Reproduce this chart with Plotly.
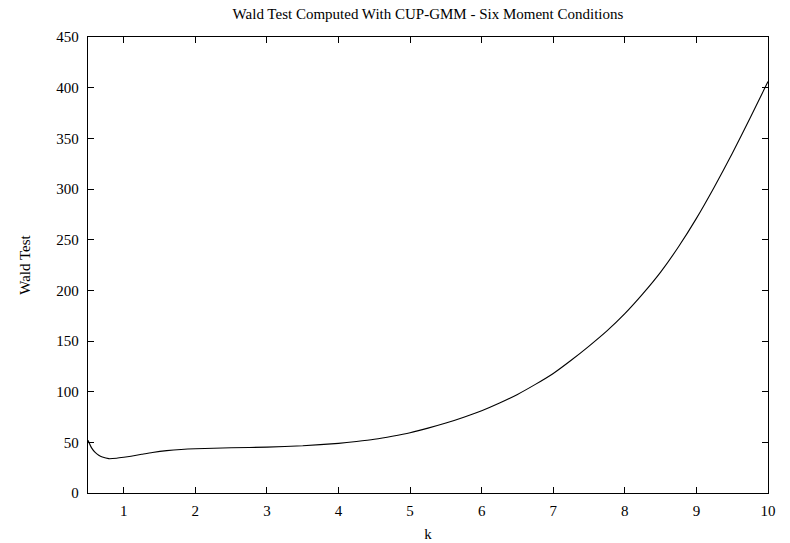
import plotly.graph_objects as go

# Values
k_values = [0.5, 0.55, 0.6, 0.65, 0.7, 0.79, 0.9, 1.0, 1.1, 1.25, 1.4, 1.6, 1.8, 2.0, 2.5, 3.0,
            3.5, 4.0, 4.25, 4.5, 4.75, 5.0, 5.25, 5.5, 5.75, 6.0, 6.25, 6.5, 6.75,
            7.0, 7.25, 7.5, 7.75, 8.0, 8.25, 8.5, 8.75, 9.0, 9.25, 9.5, 9.75, 10.0]
wald_values = [52, 44.5, 40, 37.2, 35.5, 33.9, 34.3, 35.2, 36.3, 38.2, 40, 41.8, 43, 43.7, 44.6, 45.3,
               46.6, 49, 50.8, 53, 56, 59.5, 64, 69, 74.8, 81.2, 88.8, 97.3, 107.2,
               118, 131, 145, 160, 177, 196.5, 218, 243, 271, 302, 335, 370, 406]

x_tick_vals = [1, 2, 3, 4, 5, 6, 7, 8, 9, 10]
y_tick_vals = [0, 50, 100, 150, 200, 250, 300, 350, 400, 450]

title_text = "Wald Test Computed With CUP-GMM - Six Moment Conditions"
x_label = "k"
y_label = "Wald Test"

font_family = "Liberation Serif"

fig = go.Figure()
fig.add_trace(go.Scatter(
    x=k_values, y=wald_values, mode="lines",
    line=dict(color="black", width=1.1, shape="spline", smoothing=0.6),
    showlegend=False, hoverinfo="skip",
))

axis_common = dict(
    showline=True, linecolor="black", linewidth=1.3, mirror="ticks",
    ticks="inside", ticklen=6, tickwidth=1, tickcolor="black",
    showgrid=False, zeroline=False, automargin=False,
    tickfont=dict(family=font_family, size=15, color="black"),
)

fig.update_layout(
    width=790, height=543,
    margin=dict(l=88, r=22, t=37, b=50),
    paper_bgcolor="white", plot_bgcolor="white",
    title=dict(text=title_text, x=0.5, xref="paper", xanchor="center",
               y=1 - 14 / 543, yref="container", yanchor="middle",
               font=dict(family=font_family, size=15, color="black")),
    xaxis=dict(range=[0.5, 10], tickvals=x_tick_vals, ticklabelstandoff=4,
               title=dict(text=x_label, standoff=10,
                          font=dict(family=font_family, size=15, color="black")),
               **axis_common),
    yaxis=dict(range=[0, 450], tickvals=y_tick_vals, ticklabelstandoff=5,
               title=dict(text=y_label, standoff=22,
                          font=dict(family=font_family, size=15, color="black")),
               **axis_common),
)

fig.write_html("out.html")
